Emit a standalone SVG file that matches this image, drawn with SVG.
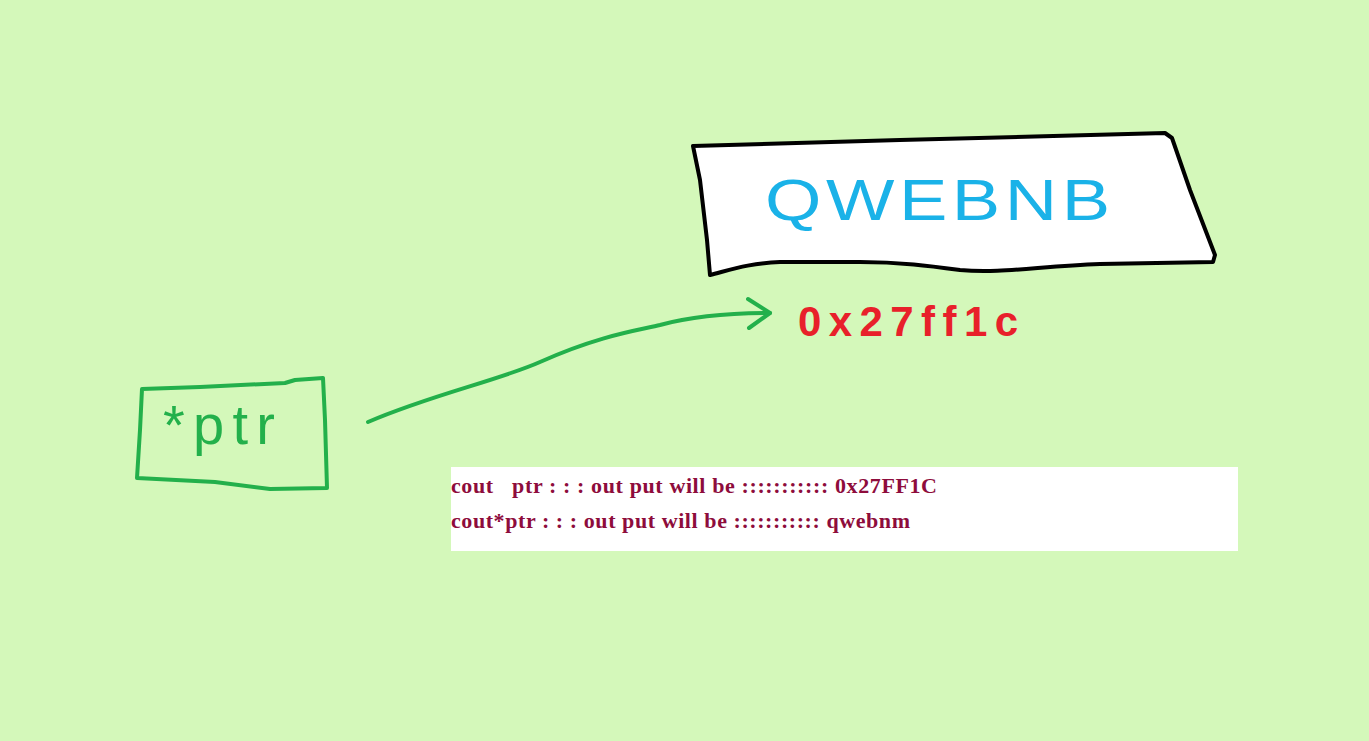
<svg xmlns="http://www.w3.org/2000/svg" width="1369" height="741" viewBox="0 0 1369 741">
<style>
.hand{stroke-linecap:round;stroke-linejoin:round}
.out{font-family:"Liberation Serif",serif;font-size:22px;font-weight:bold;fill:#8e0c3c;white-space:pre}
</style>
<defs>
<marker id="ah" markerWidth="30" markerHeight="40" refX="24" refY="17" orient="auto" markerUnits="userSpaceOnUse">
<path d="M2,3 L24,17 L3,32" fill="none" stroke="#23b04b" stroke-width="4" stroke-linecap="round" stroke-linejoin="round"/>
</marker>
</defs>
<rect width="1369" height="741" fill="#d4f8ba"/>
<g id="memory">
<path class="hand" d="M693,146 L900,140 L1165,133 L1172,138 L1190,190 L1215,255 L1213,262 L1100,264 C1040,266 1000,274 960,270 C930,266 900,262 860,262 L780,262 C750,263 730,270 710,275 L707,240 L700,180 Z" fill="#ffffff" stroke="#000000" stroke-width="4"/>
<text x="765" y="220" font-family="Liberation Sans, sans-serif" font-size="58" fill="#1ab2e8" transform="translate(765,0) scale(1.25,1) translate(-765,0)" textLength="276" lengthAdjust="spacing">QWEBNB</text>
</g>
<g id="address">
<text x="798" y="336" font-family="Liberation Sans, sans-serif" font-size="42" font-weight="bold" fill="#e8202a" textLength="220" lengthAdjust="spacing">0x27ff1c</text>
</g>
<g id="ptr">
<path class="hand" d="M142,389 L200,387 L285,383 L295,380 L323,378 L325,420 L327,488 L270,489 L215,482 L137,478 L140,430 Z" fill="none" stroke="#23b04b" stroke-width="4"/>
<text x="163" y="444" font-family="Liberation Sans, sans-serif" font-size="56" fill="#23b04b" textLength="112" lengthAdjust="spacing">*ptr</text>
</g>
<g id="connectors">
<path class="hand" d="M368,422 C430,395 500,380 540,362 C600,335 640,330 660,325 C700,314 740,313 770,313" fill="none" stroke="#23b04b" stroke-width="4" marker-end="url(#ah)"/>
</g>
<g id="output">
<rect x="451" y="467" width="787" height="84" fill="#ffffff"/>
<text class="out" x="451" y="493" textLength="486" lengthAdjust="spacing">cout   ptr : : : out put will be ::::::::::: 0x27FF1C</text>
<text class="out" x="451" y="528" textLength="459" lengthAdjust="spacing">cout*ptr : : : out put will be ::::::::::: qwebnm</text>
</g>
</svg>
